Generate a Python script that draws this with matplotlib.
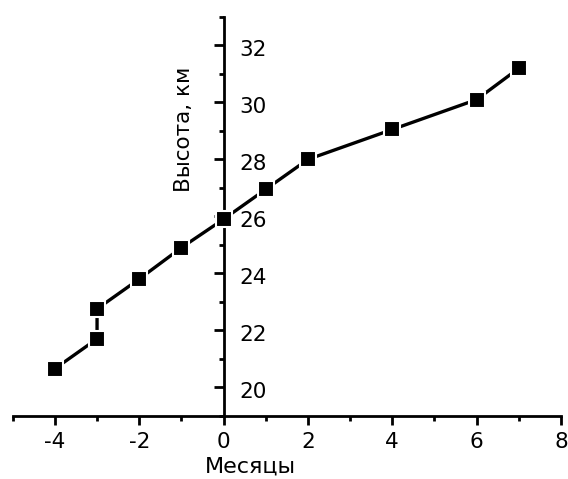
import matplotlib
matplotlib.use("Agg")
import matplotlib.pyplot as plt
from matplotlib.ticker import MultipleLocator
from matplotlib.transforms import ScaledTranslation

plt.rcParams['font.family'] = ['DejaVu Sans']
plt.rcParams['axes.unicode_minus'] = False

# Altitude over months
months = [-4, -3, -3, -2, -1, 0, 1, 2, 4, 6, 7]
altitude = [20.65, 21.7, 22.75, 23.8, 24.9, 25.9, 26.95, 28.0, 29.05, 30.1, 31.2]

x_ticks = [-4, -2, 0, 2, 4, 6, 8]
y_ticks = [20, 22, 24, 26, 28, 30, 32]

x_label = "Месяцы"
y_label = "Высота, км"

W, H = 568, 479
fig = plt.figure(figsize=(W / 100, H / 100), dpi=100)
x0, x1, y_top, y_bot = 12.7, 561.0, 17.0, 415.7
ax = fig.add_axes([x0 / W, 1 - y_bot / H, (x1 - x0) / W, (y_bot - y_top) / H])

ax.plot(months, altitude, color='black', lw=2.4, marker='s', ms=11,
        mfc='black', mec='white', mew=1.5, zorder=3, clip_on=False)

ax.set_xlim(-5, 8)
ax.set_ylim(19, 33)

# x axis along the bottom, y axis through x = 0
ax.spines['top'].set_visible(False)
ax.spines['left'].set_position(('data', 0))
ax.spines['right'].set_position(('data', 0))
ax.spines['right'].set_visible(False)
for s in ('left', 'bottom'):
    ax.spines[s].set_linewidth(2.0)

ax.xaxis.set_minor_locator(MultipleLocator(1))
ax.yaxis.set_minor_locator(MultipleLocator(1))
ax.set_xticks(x_ticks)
ax.set_xticklabels([str(v) for v in x_ticks])
ax.set_yticks(y_ticks)
ax.set_yticklabels([str(v) for v in y_ticks])

fs = 15.5
ax.tick_params(axis='x', which='major', direction='out', length=6.5, width=2.0,
               labelsize=fs, pad=5)
ax.tick_params(axis='x', which='minor', direction='out', length=3.6, width=2.0)
ax.tick_params(axis='y', which='both', left=True, right=False,
               labelleft=False, labelright=True, direction='out', width=2.0)
ax.tick_params(axis='y', which='major', length=7, labelsize=fs, pad=4.5)
ax.tick_params(axis='y', which='minor', length=3.6)

shift = ScaledTranslation(0, -3.2 / 72, fig.dpi_scale_trans)
for lab in ax.get_yticklabels():
    lab.set_verticalalignment('center')
    lab.set_transform(lab.get_transform() + shift)

# Axis titles
ax.text((250 - x0) / (x1 - x0), -(473 - y_bot) / (y_bot - y_top), x_label,
        transform=ax.transAxes, fontsize=16, ha='center', va='baseline')
ax.text(-0.95, 29.05, y_label, rotation=90, fontsize=fs,
        ha='center', va='center')

fig.savefig("out.png", dpi=100)
